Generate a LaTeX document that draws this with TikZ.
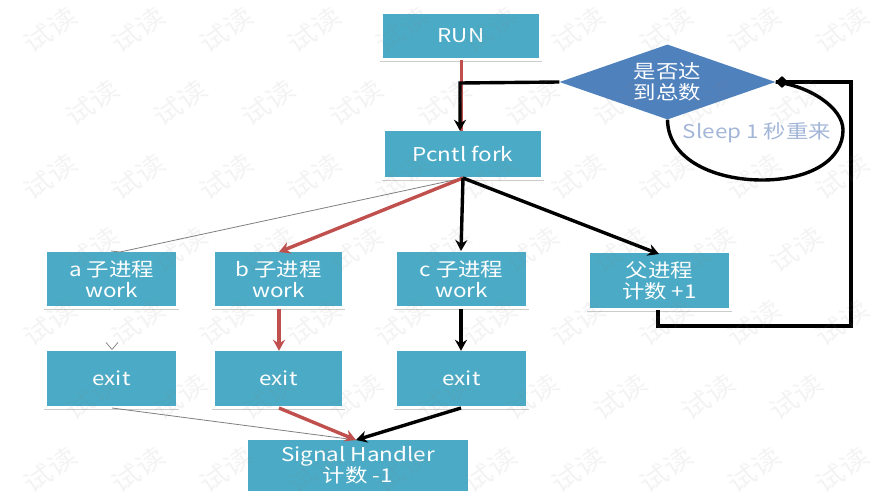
\documentclass[tikz,border=0pt]{standalone}
\usepackage{fontspec}
\setmainfont[FakeStretch=1.18]{Noto Sans CJK SC}
\usetikzlibrary{arrows.meta,shapes.geometric}
\definecolor{boxc}{HTML}{4BABC6}
\definecolor{diac}{HTML}{4F81BD}
\definecolor{redl}{HTML}{C0504D}
\definecolor{sleepc}{HTML}{A3B6D8}
\tikzset{
  x=1pt,y=-1pt,
  flowbox/.style={rectangle,fill=boxc,text=white,inner sep=0pt,align=center,font=\fontsize{19}{21}\selectfont},
  redarrow/.style={draw=redl,line width=3.4pt,-{Stealth[length=11pt,width=12pt]}},
  blackarrow/.style={draw=black,line width=3.4pt,-{Stealth[length=11pt,width=12pt]}},
  thinarrow/.style={draw=gray,line width=0.8pt},
  shadowline/.style={draw=gray!40,line width=1pt},
  wmark/.style={text=gray,opacity=0.09,rotate=35,font=\fontsize{25}{25}\selectfont}
}
\begin{document}
\begin{tikzpicture}
\useasboundingbox (0,0) rectangle (889,500);
\fill[white] (0,0) rectangle (889,500);
% boxes
\node[flowbox,minimum width=156pt,minimum height=44pt] (run) at (461,36) {RUN};
\node[flowbox,minimum width=156pt,minimum height=46pt] (fork) at (463,154) {Pcntl fork};
\node[flowbox,minimum width=129pt,minimum height=54pt] (aw) at (111.5,279) {a 子进程\\work};
\node[flowbox,minimum width=127pt,minimum height=54pt] (bw) at (278.5,279) {b 子进程\\work};
\node[flowbox,minimum width=129pt,minimum height=54pt] (cw) at (461.5,279) {c 子进程\\work};
\node[flowbox,minimum width=139pt,minimum height=55pt] (pw) at (659.5,280.5) {父进程\\计数 +1};
\node[flowbox,minimum width=129pt,minimum height=55pt] (ae) at (111.5,378.5) {exit};
\node[flowbox,minimum width=127pt,minimum height=55pt] (be) at (278.5,378.5) {exit};
\node[flowbox,minimum width=129pt,minimum height=55pt] (ce) at (461.5,378.5) {exit};
\node[flowbox,minimum width=220pt,minimum height=51pt] (sig) at (358,465.5) {Signal Handler\\计数 -1};
\node[diamond,aspect=2.9,fill=diac,text=white,inner sep=0pt,minimum width=216pt,minimum height=75pt,align=center,font=\fontsize{19}{21}\selectfont] (dia) at (667.5,82) {是否达\\到总数};
\node[text=sleepc,inner sep=0pt,font=\fontsize{19}{21}\selectfont] (slp) at (757,133) {Sleep 1 秒重来};
% box underlines
\foreach \n in {run,fork,aw,bw,cw,pw,ae,be,ce}
  \draw[shadowline] ([xshift=-3pt,yshift=-3pt]\n.south west) -- ([xshift=3pt,yshift=-3pt]\n.south east);
% free connector ends
\coordinate (runb) at (461.5,60);
\coordinate (join) at (460,83);
\coordinate (forkb) at (463,178);
\coordinate (atop) at (120,252);
\coordinate (btop) at (279,252);
\coordinate (ctop) at (461,251);
\coordinate (ptop) at (659,254);
\coordinate (sigt) at (356,440);
\coordinate (pb) at (658,310);
\coordinate (pc) at (658,326);
\coordinate (rc) at (851,326);
\coordinate (rt) at (851,82);
\coordinate (awb) at (112,307);
\coordinate (aet) at (112,350);
\coordinate (aeb) at (112,408);
\coordinate (beb) at (279,408);
\coordinate (ceb) at (461,408);
\coordinate (bwb) at (279,309);
\coordinate (cwb) at (461,309);
% connectors
\draw[draw=redl,line width=2.4pt] (runb) -- (fork.north -| runb);
\draw[blackarrow] (dia.west) -- (join) -- (fork.north -| join);
\draw[thinarrow] (forkb) -- (atop);
\draw[draw=gray,line width=0.8pt] (atop)++(-9,-1) -- (atop);
\draw[redarrow] (forkb) -- (btop);
\draw[blackarrow] (forkb) -- (ctop);
\draw[blackarrow] (forkb) -- (ptop);
\draw[draw=white,line width=1.5pt,-{Straight Barb[length=7pt,width=12pt,color=gray,line width=0.7pt]}] (awb) -- (aet);
\draw[redarrow] (bwb) -- (be.north -| bwb);
\draw[blackarrow] (cwb) -- (ce.north -| cwb);
\draw[thinarrow] (aeb) -- (sigt);
\draw[blackarrow] (ceb) -- (sigt);
\draw[redarrow] (beb) -- (sigt);
\draw[draw=black,line width=3.4pt,line join=miter] (pb) -- (pc) -- (rc) -- (rt) -- (dia.east);
\draw[draw=black,line width=3.4pt] (dia.south) .. controls (668,160) and (715,180) .. (762,180)
  .. controls (810,180) and (843,160) .. (843,130) .. controls (843,108) and (810,86) .. (dia.east);
\node[diamond,fill=black,inner sep=0pt,minimum width=13pt,minimum height=12pt] (tip) at (782,82) {};
% watermark
\foreach \j/\y in {0/30,2/177,4/323,6/470}
  \foreach \i in {0,...,9}
    \node[wmark] (wa\j-\i) at (50+88*\i,\y) {试读};
\foreach \j/\y in {1/103,3/250,5/397}
  \foreach \i in {0,...,8}
    \node[wmark] (wb\j-\i) at (92+88*\i,\y) {试读};
\end{tikzpicture}
\end{document}
